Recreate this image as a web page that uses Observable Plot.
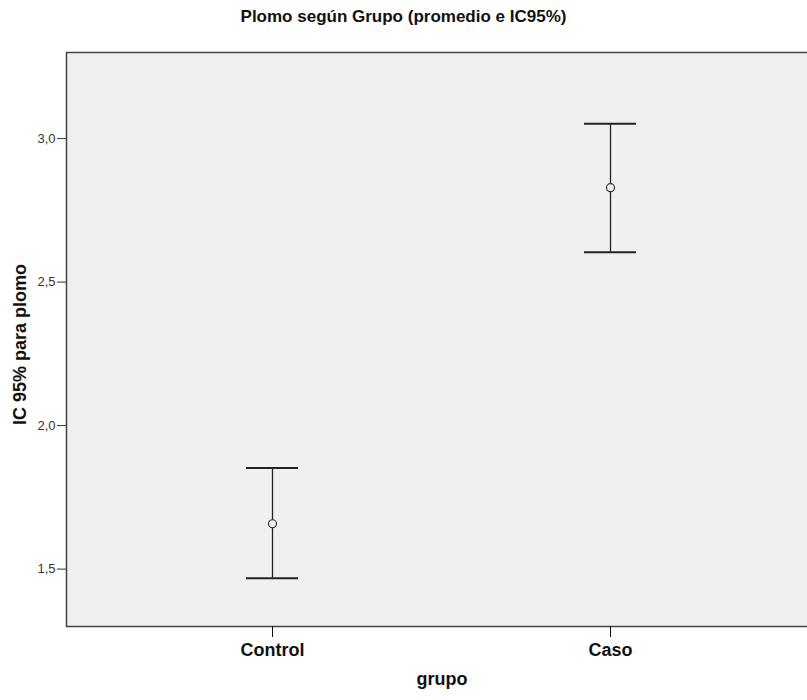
<!DOCTYPE html>
<html><head><meta charset="utf-8">
<script src="https://cdn.jsdelivr.net/npm/d3@7"></script>
<script src="https://cdn.jsdelivr.net/npm/@observablehq/plot@0.6"></script>
<style>
body{margin:0;overflow:hidden;background:#fff;font-family:'Liberation Sans',Arial,sans-serif}
#title{width:807px;height:34px;line-height:34px;text-align:center;font-size:17px;font-weight:bold;color:#111}
</style>
</head><body><div id="title"></div><div id="chart"></div>
<script>
const groups = ["Control", "Caso"];
const means = [1.658, 2.829];
const lower = [1.468, 2.604];
const upper = [1.852, 3.052];
const yTicks = [1.5, 2.0, 2.5, 3.0];
const titleText = "Plomo según Grupo (promedio e IC95%)";
const xLabel = "grupo";
const yLabel = "IC 95% para plomo";

document.getElementById("title").textContent = titleText;
const data = groups.map((g, i) => ({grupo: g, mean: means[i], lo: lower[i], hi: upper[i]}));
const fmt = d => d.toFixed(1).replace(".", ",");

const plot = Plot.plot({
  width: 807, height: 666,
  marginTop: 18, marginBottom: 74, marginLeft: 66, marginRight: -10,
  style: {fontFamily: "'Liberation Sans', Arial, sans-serif", background: "#fff", color: "#222", overflow: "hidden"},
  x: {type: "band", domain: groups, paddingInner: 0.846, paddingOuter: 0.5325, label: null},
  y: {domain: [1.3, 3.3], label: null},
  marks: [
    Plot.frame({fill: "#f0f0f0", stroke: "#444", strokeWidth: 1.5}),
    Plot.axisY({ticks: yTicks, tickFormat: fmt, tickSize: 9, tickPadding: 2, fontSize: 13, label: null, color: "#333"}),
    Plot.axisX({tickSize: 11, tickPadding: 6, fontSize: 18, fontWeight: "bold", label: null, color: "#111"}),
    Plot.ruleX(data, {x: "grupo", y1: "lo", y2: "hi", stroke: "#222", strokeWidth: 1.3}),
    Plot.tickY(data, {x: "grupo", y: "lo", stroke: "#222", strokeWidth: 2}),
    Plot.tickY(data, {x: "grupo", y: "hi", stroke: "#222", strokeWidth: 2}),
    Plot.dot(data, {x: "grupo", y: "mean", r: 4, stroke: "#333", fill: "#f0f0f0", strokeWidth: 1.2}),
    Plot.text([yLabel], {frameAnchor: "left", textAnchor: "middle", dx: -46, dy: 5, rotate: -90, fontSize: 18, fontWeight: "bold", fill: "#111"}),
    Plot.text([xLabel], {frameAnchor: "bottom", dy: 58, fontSize: 18, fontWeight: "bold", fill: "#111"})
  ]
});
document.getElementById("chart").appendChild(plot);
</script>
</body></html>
